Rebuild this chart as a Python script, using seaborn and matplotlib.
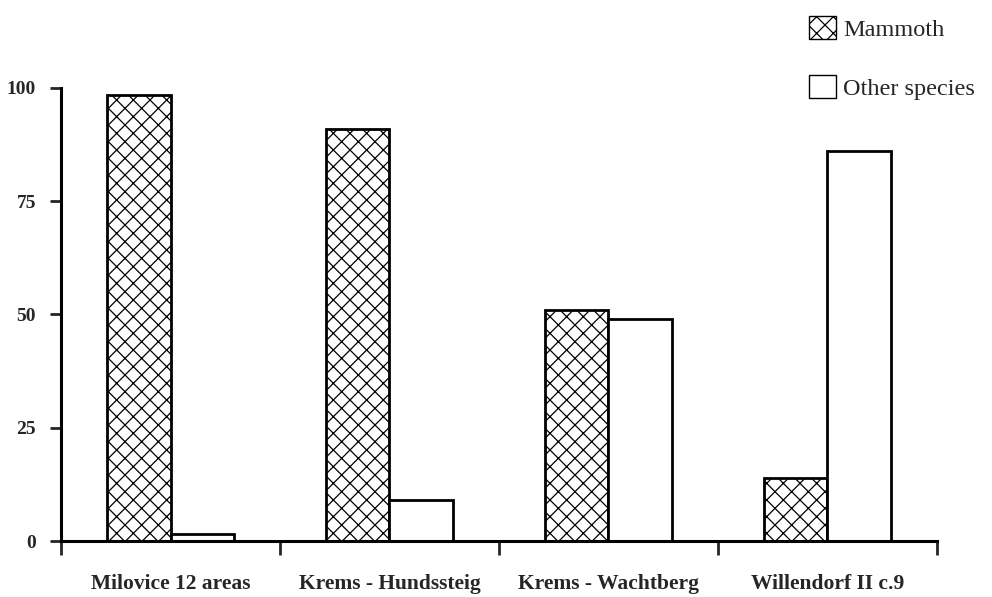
import pandas as pd
import matplotlib.pyplot as plt
import matplotlib.patches as mpatches
from matplotlib.ticker import FixedLocator
import seaborn as sns

# Data
sites = ["Milovice 12 areas", "Krems - Hundssteig", "Krems - Wachtberg", "Willendorf II c.9"]
mammoth = [98.5, 91, 51, 14]
other_species = [1.5, 9, 49, 86]
species = ["Mammoth", "Other species"]

df = pd.DataFrame({
    "site": sites * 2,
    "species": [species[0]] * len(sites) + [species[1]] * len(sites),
    "value": mammoth + other_species,
})

sns.set_style("white")
plt.rcParams["font.family"] = ["Liberation Serif", "DejaVu Serif"]
plt.rcParams["hatch.linewidth"] = 0.9
plt.rcParams["hatch.color"] = "#333333"

fig = plt.figure(figsize=(9.92, 5.97), dpi=100)
ax = fig.add_axes([0.0615, 0.0938, 0.883, 0.7588])

sns.barplot(data=df, x="site", y="value", hue="species", order=sites,
            hue_order=species, width=0.58, palette=["white", "white"],
            edgecolor="black", linewidth=2, legend=False, ax=ax)

for bar in ax.containers[0]:
    bar.set_hatch("xx")

ax.set_xlim(-0.5, len(sites) - 0.5)
ax.set_ylim(0, 100)
ax.set_yticks([0, 25, 50, 75, 100])
ax.set_xlabel("")
ax.set_ylabel("")

# category boundary ticks
ax.xaxis.set_minor_locator(FixedLocator([i - 0.5 for i in range(len(sites) + 1)]))
ax.tick_params(axis="x", which="major", length=0, pad=24)
ax.tick_params(axis="x", which="minor", length=10, width=2, direction="out", bottom=True)
ax.tick_params(axis="y", which="major", length=8, width=2, direction="out", left=True, pad=10)

for lbl in ax.get_xticklabels():
    lbl.set_fontweight("bold")
    lbl.set_fontsize(15.5)
for lbl in ax.get_yticklabels():
    lbl.set_fontweight("bold")
    lbl.set_fontsize(14)

sns.despine(ax=ax)
for side in ["left", "bottom"]:
    ax.spines[side].set_linewidth(2.2)
    ax.spines[side].set_color("black")

handles = [
    mpatches.Patch(facecolor="white", edgecolor="black", hatch="xx", linewidth=1, label=species[0]),
    mpatches.Patch(facecolor="white", edgecolor="black", linewidth=1, label=species[1]),
]
fig.legend(handles=handles, loc="upper right", bbox_to_anchor=(1.005, 1.01),
           frameon=False, fontsize=17.5, handlelength=1.1, handleheight=1.1,
           handletextpad=0.3, labelspacing=1.4)

fig.savefig("out.png", dpi=100)
